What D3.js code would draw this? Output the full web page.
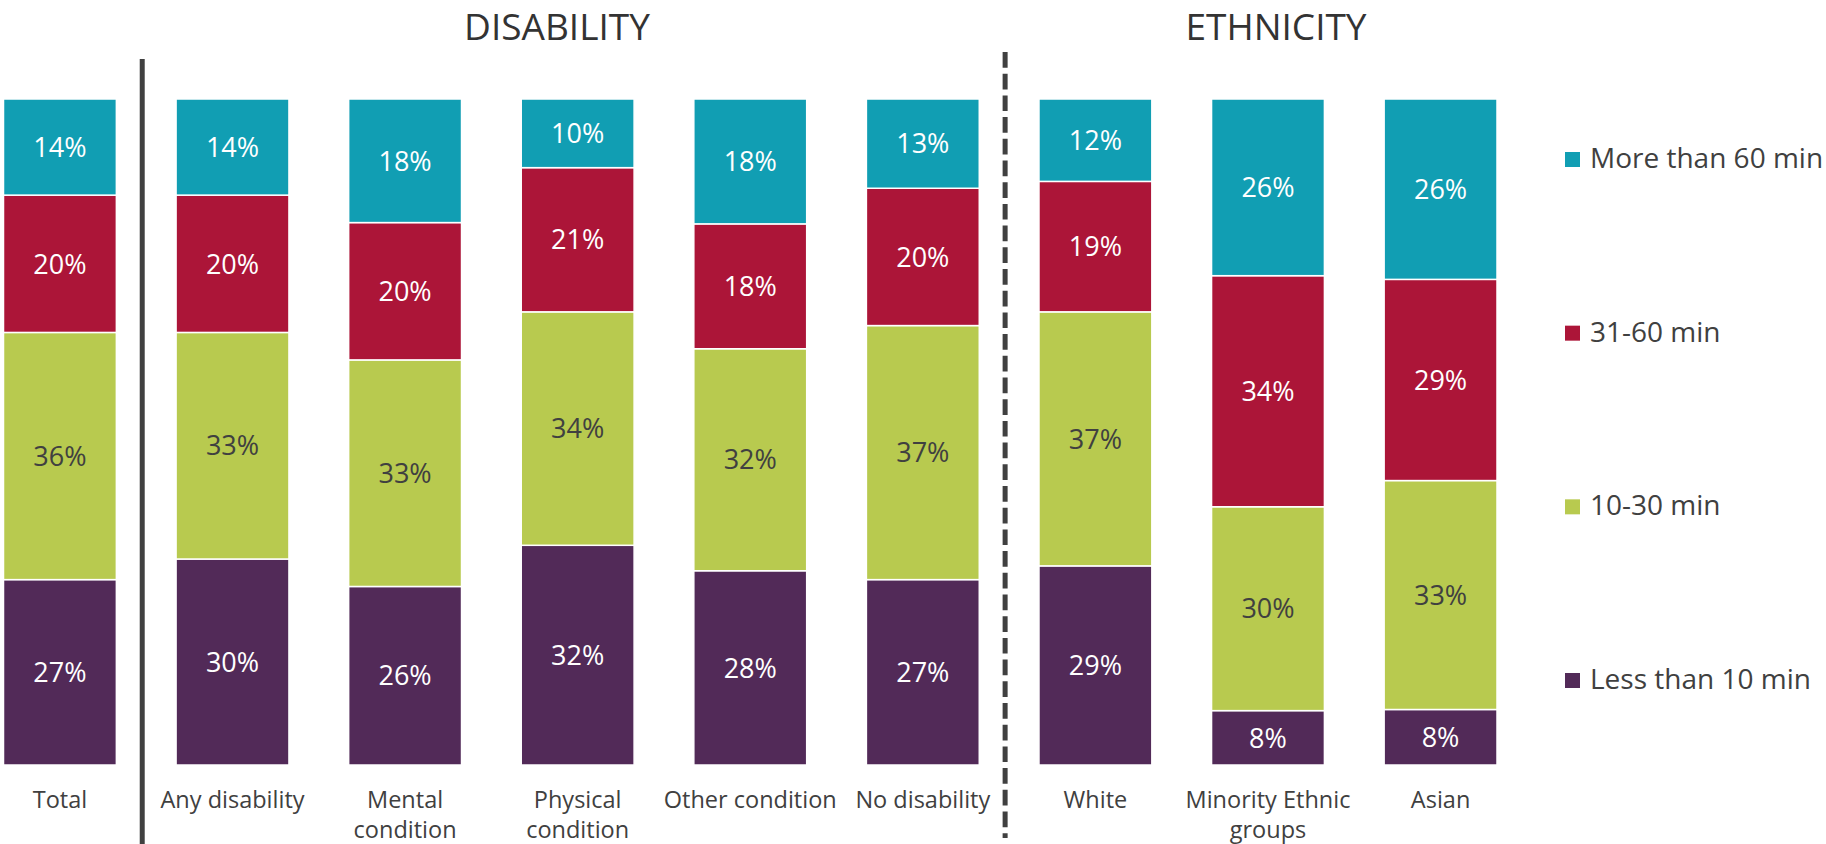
<!DOCTYPE html>
<html>
<head>
<meta charset="utf-8">
<script src="https://cdn.jsdelivr.net/npm/d3@7"></script>
<style>
  html, body { margin: 0; padding: 0; background: #ffffff; }
  svg { display: block; font-family: "Open Sans", "Noto Sans", sans-serif; }
</style>
</head>
<body>
<svg id="chart" width="1826" height="844"></svg>
<script>
// Travel time by group (share of respondents, %)
const categories = ["Total", "Any disability", "Mental condition", "Physical condition",
  "Other condition", "No disability", "White", "Minority Ethnic groups", "Asian"];
const categoryLines = [["Total"], ["Any disability"], ["Mental", "condition"], ["Physical", "condition"],
  ["Other condition"], ["No disability"], ["White"], ["Minority Ethnic", "groups"], ["Asian"]];

const lessThan10 = [27, 30, 26, 32, 28, 27, 29, 8, 8];
const min10to30  = [36, 33, 33, 34, 32, 37, 37, 30, 33];
const min31to60  = [20, 20, 20, 21, 18, 20, 19, 34, 29];
const moreThan60 = [14, 14, 18, 10, 18, 13, 12, 26, 26];

const seriesNames = ["Less than 10 min", "10-30 min", "31-60 min", "More than 60 min"];
const seriesKeys = ["lt10", "m10_30", "m31_60", "gt60"];
const seriesColors = ["#522a58", "#b8ca4f", "#ac1538", "#119eb3"];
const labelColors = ["#ffffff", "#404040", "#ffffff", "#ffffff"];

const groupTitles = ["DISABILITY", "ETHNICITY"];

const rows = categories.map((c, i) => ({
  category: c,
  lt10: lessThan10[i], m10_30: min10to30[i], m31_60: min31to60[i], gt60: moreThan60[i]
}));

const svg = d3.select("#chart");

const x = d3.scaleBand()
  .domain(categories)
  .range([3.5, 1497])
  .paddingInner(0.346)
  .paddingOuter(0);

const y = d3.scaleLinear().domain([0, 1]).range([765, 99]);

const stack = d3.stack().keys(seriesKeys).offset(d3.stackOffsetExpand);
const layers = stack(rows);

const layerG = svg.append("g").selectAll("g")
  .data(layers)
  .join("g")
  .attr("fill", (d, i) => seriesColors[i]);

layerG.selectAll("rect")
  .data(d => d.map(p => ({ p, key: d.key })))
  .join("rect")
  .attr("x", d => x(d.p.data.category))
  .attr("width", x.bandwidth())
  .attr("y", d => y(d.p[1]))
  .attr("height", d => y(d.p[0]) - y(d.p[1]))
  .attr("stroke", "#ffffff")
  .attr("stroke-width", 1.5);

// value labels inside each segment
layerG.selectAll("text")
  .data((d, i) => d.map(p => ({ p, key: d.key, idx: i })))
  .join("text")
  .attr("x", d => x(d.p.data.category) + x.bandwidth() / 2)
  .attr("y", d => (y(d.p[0]) + y(d.p[1])) / 2)
  .attr("dy", "0.36em")
  .attr("text-anchor", "middle")
  .attr("font-size", 27)
  .attr("fill", d => labelColors[d.idx])
  .text(d => d.p.data[d.key] + "%");

// category labels below the bars
const catG = svg.append("g").selectAll("text")
  .data(categories)
  .join("text")
  .attr("x", d => x(d) + x.bandwidth() / 2)
  .attr("y", 808)
  .attr("text-anchor", "middle")
  .attr("font-size", 23.5)
  .attr("fill", "#404040");

catG.selectAll("tspan")
  .data((d, i) => categoryLines[i])
  .join("tspan")
  .attr("x", function () { return d3.select(this.parentNode).attr("x"); })
  .attr("dy", (d, i) => i === 0 ? 0 : 30)
  .text(d => d);

// group separators, sitting a little left of the gap between groups
const gap1 = (x(categories[0]) + x.bandwidth() + x(categories[1])) / 2 - 4;
const gap2 = (x(categories[5]) + x.bandwidth() + x(categories[6])) / 2 - 4;

svg.append("line")
  .attr("x1", gap1).attr("x2", gap1)
  .attr("y1", 59).attr("y2", 844)
  .attr("stroke", "#404040").attr("stroke-width", 5);

svg.append("line")
  .attr("x1", gap2).attr("x2", gap2)
  .attr("y1", 52).attr("y2", 838)
  .attr("stroke", "#404040").attr("stroke-width", 5)
  .attr("stroke-dasharray", "15.7 6");

// group titles
const titleX = [557, 1276];
svg.append("g").selectAll("text")
  .data(groupTitles)
  .join("text")
  .attr("x", (d, i) => titleX[i])
  .attr("y", 40)
  .attr("text-anchor", "middle")
  .attr("font-size", 37)
  .attr("fill", "#333333")
  .text(d => d);

// legend, top entry first
const legendOrder = [3, 2, 1, 0];
const legendY = d3.scalePoint().domain(legendOrder).range([158, 679]);
const legend = svg.append("g").selectAll("g")
  .data(legendOrder)
  .join("g")
  .attr("transform", d => `translate(1565, ${legendY(d)})`);

legend.append("rect")
  .attr("x", 0).attr("y", -6)
  .attr("width", 15).attr("height", 15)
  .attr("fill", d => seriesColors[d]);

legend.append("text")
  .attr("x", 25)
  .attr("y", 0)
  .attr("dy", "0.36em")
  .attr("font-size", 28)
  .attr("fill", "#404040")
  .text(d => seriesNames[d]);
</script>
</body>
</html>
